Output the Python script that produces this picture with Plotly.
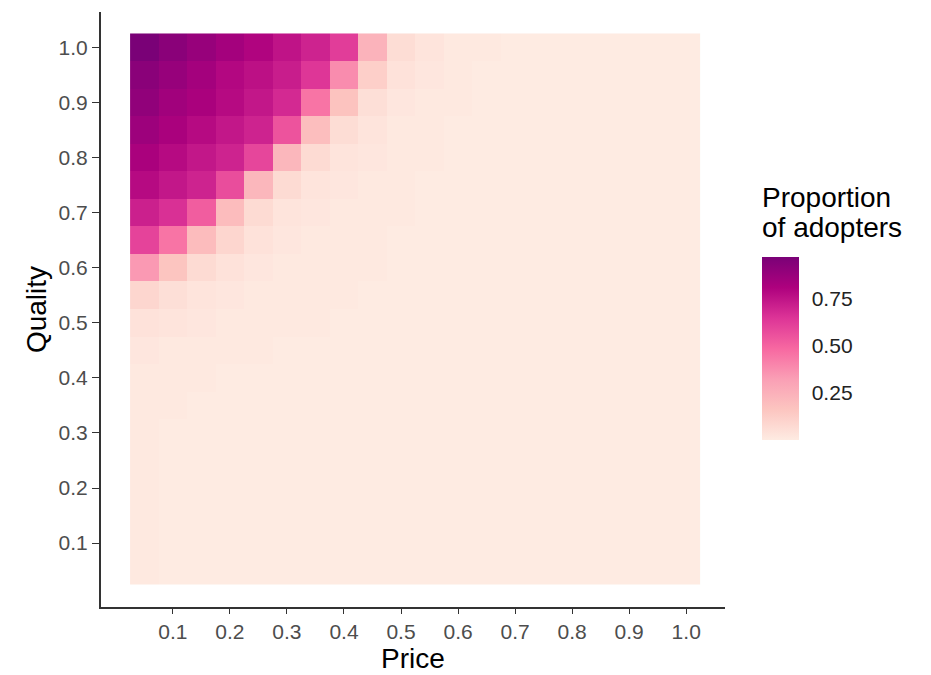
import plotly.graph_objects as go

# Price (x) and Quality (y) grid values
price = [0.05, 0.10, 0.15, 0.20, 0.25, 0.30, 0.35, 0.40, 0.45, 0.50,
         0.55, 0.60, 0.65, 0.70, 0.75, 0.80, 0.85, 0.90, 0.95, 1.00]
quality = [0.05, 0.10, 0.15, 0.20, 0.25, 0.30, 0.35, 0.40, 0.45, 0.50,
           0.55, 0.60, 0.65, 0.70, 0.75, 0.80, 0.85, 0.90, 0.95, 1.00]

# Proportion of adopters, one row per quality level (q = 0.05 ... 1.00)
z_rows = [
    [0.01, 0.00, 0.00, 0.00, 0.00, 0.00, 0.00, 0.00, 0.00, 0.00, 0.00, 0.00, 0.00, 0.00, 0.00, 0.00, 0.00, 0.00, 0.00, 0.00],  # 0.05
    [0.01, 0.00, 0.00, 0.00, 0.00, 0.00, 0.00, 0.00, 0.00, 0.00, 0.00, 0.00, 0.00, 0.00, 0.00, 0.00, 0.00, 0.00, 0.00, 0.00],  # 0.10
    [0.01, 0.00, 0.00, 0.00, 0.00, 0.00, 0.00, 0.00, 0.00, 0.00, 0.00, 0.00, 0.00, 0.00, 0.00, 0.00, 0.00, 0.00, 0.00, 0.00],  # 0.15
    [0.01, 0.00, 0.00, 0.00, 0.00, 0.00, 0.00, 0.00, 0.00, 0.00, 0.00, 0.00, 0.00, 0.00, 0.00, 0.00, 0.00, 0.00, 0.00, 0.00],  # 0.20
    [0.01, 0.00, 0.00, 0.00, 0.00, 0.00, 0.00, 0.00, 0.00, 0.00, 0.00, 0.00, 0.00, 0.00, 0.00, 0.00, 0.00, 0.00, 0.00, 0.00],  # 0.25
    [0.01, 0.00, 0.00, 0.00, 0.00, 0.00, 0.00, 0.00, 0.00, 0.00, 0.00, 0.00, 0.00, 0.00, 0.00, 0.00, 0.00, 0.00, 0.00, 0.00],  # 0.30
    [0.01, 0.01, 0.00, 0.00, 0.00, 0.00, 0.00, 0.00, 0.00, 0.00, 0.00, 0.00, 0.00, 0.00, 0.00, 0.00, 0.00, 0.00, 0.00, 0.00],  # 0.35
    [0.01, 0.01, 0.01, 0.00, 0.00, 0.00, 0.00, 0.00, 0.00, 0.00, 0.00, 0.00, 0.00, 0.00, 0.00, 0.00, 0.00, 0.00, 0.00, 0.00],  # 0.40
    [0.02, 0.01, 0.01, 0.01, 0.01, 0.00, 0.00, 0.00, 0.00, 0.00, 0.00, 0.00, 0.00, 0.00, 0.00, 0.00, 0.00, 0.00, 0.00, 0.00],  # 0.45
    [0.04, 0.03, 0.02, 0.01, 0.01, 0.01, 0.01, 0.00, 0.00, 0.00, 0.00, 0.00, 0.00, 0.00, 0.00, 0.00, 0.00, 0.00, 0.00, 0.00],  # 0.50
    [0.09, 0.05, 0.03, 0.02, 0.01, 0.01, 0.01, 0.01, 0.00, 0.00, 0.00, 0.00, 0.00, 0.00, 0.00, 0.00, 0.00, 0.00, 0.00, 0.00],  # 0.55
    [0.34, 0.16, 0.07, 0.04, 0.02, 0.01, 0.01, 0.01, 0.01, 0.00, 0.00, 0.00, 0.00, 0.00, 0.00, 0.00, 0.00, 0.00, 0.00, 0.00],  # 0.60
    [0.60, 0.45, 0.20, 0.09, 0.04, 0.02, 0.01, 0.01, 0.01, 0.00, 0.00, 0.00, 0.00, 0.00, 0.00, 0.00, 0.00, 0.00, 0.00, 0.00],  # 0.65
    [0.71, 0.66, 0.52, 0.20, 0.07, 0.03, 0.02, 0.01, 0.01, 0.01, 0.00, 0.00, 0.00, 0.00, 0.00, 0.00, 0.00, 0.00, 0.00, 0.00],  # 0.70
    [0.78, 0.74, 0.70, 0.57, 0.22, 0.07, 0.03, 0.02, 0.01, 0.01, 0.00, 0.00, 0.00, 0.00, 0.00, 0.00, 0.00, 0.00, 0.00, 0.00],  # 0.75
    [0.82, 0.78, 0.74, 0.70, 0.59, 0.22, 0.07, 0.03, 0.02, 0.01, 0.01, 0.00, 0.00, 0.00, 0.00, 0.00, 0.00, 0.00, 0.00, 0.00],  # 0.80
    [0.86, 0.82, 0.78, 0.74, 0.70, 0.55, 0.19, 0.06, 0.03, 0.01, 0.01, 0.00, 0.00, 0.00, 0.00, 0.00, 0.00, 0.00, 0.00, 0.00],  # 0.85
    [0.90, 0.85, 0.82, 0.78, 0.74, 0.68, 0.45, 0.17, 0.05, 0.02, 0.01, 0.01, 0.00, 0.00, 0.00, 0.00, 0.00, 0.00, 0.00, 0.00],  # 0.90
    [0.92, 0.88, 0.84, 0.79, 0.76, 0.72, 0.64, 0.38, 0.12, 0.04, 0.02, 0.01, 0.00, 0.00, 0.00, 0.00, 0.00, 0.00, 0.00, 0.00],  # 0.95
    [0.97, 0.92, 0.88, 0.84, 0.80, 0.75, 0.70, 0.62, 0.24, 0.06, 0.03, 0.01, 0.01, 0.00, 0.00, 0.00, 0.00, 0.00, 0.00, 0.00],  # 1.00
]

x_ticks = [0.1, 0.2, 0.3, 0.4, 0.5, 0.6, 0.7, 0.8, 0.9, 1.0]
x_tick_labels = ["0.1", "0.2", "0.3", "0.4", "0.5", "0.6", "0.7", "0.8", "0.9", "1.0"]
y_ticks = [0.1, 0.2, 0.3, 0.4, 0.5, 0.6, 0.7, 0.8, 0.9, 1.0]
y_tick_labels = ["0.1", "0.2", "0.3", "0.4", "0.5", "0.6", "0.7", "0.8", "0.9", "1.0"]
cbar_ticks = [0.25, 0.50, 0.75]
cbar_tick_labels = ["0.25", "0.50", "0.75"]
legend_title_lines = ["Proportion", "of adopters"]

# ColorBrewer RdPu (7 classes)
colorscale = [
    [0 / 6, "#feebe2"],
    [1 / 6, "#fcc5c0"],
    [2 / 6, "#fa9fb5"],
    [3 / 6, "#f768a1"],
    [4 / 6, "#dd3497"],
    [5 / 6, "#ae017e"],
    [6 / 6, "#7a0177"],
]

FONT = "Liberation Sans, Arial, sans-serif"

fig = go.Figure(
    go.Heatmap(
        x=price,
        y=quality,
        z=z_rows,
        colorscale=colorscale,
        zmin=0.0,
        zmax=0.97,
        colorbar=dict(
            tickvals=cbar_ticks,
            ticktext=cbar_tick_labels,
            tickfont=dict(size=21, color="#222222", family=FONT),
            ticks="outside",
            ticklen=9,
            tickcolor="white",
            tickwidth=1,
            outlinewidth=0,
            thickness=37,
            thicknessmode="pixels",
            len=183,
            lenmode="pixels",
            x=1.059,
            xanchor="left",
            y=0.434,
            yanchor="middle",
            xpad=0,
            ypad=0,
        ),
    )
)

# Legend title, two lines with ggplot-like tight spacing
for text, ypos in zip(legend_title_lines, [0.688, 0.638]):
    fig.add_annotation(
        text=text, xref="paper", yref="paper", x=1.056, y=ypos,
        xanchor="left", yanchor="middle", showarrow=False,
        font=dict(size=28, color="#000000", family=FONT),
    )

fig.update_layout(
    width=931,
    height=675,
    margin=dict(l=101, r=206, t=12, b=68, autoexpand=False),
    paper_bgcolor="white",
    plot_bgcolor="white",
    font=dict(family=FONT),
    xaxis=dict(
        range=[-0.026, 1.068],
        tickvals=x_ticks,
        ticktext=x_tick_labels,
        ticks="outside",
        ticklen=5,
        tickwidth=1,
        tickcolor="#333333",
        tickfont=dict(size=21, color="#4d4d4d", family=FONT),
        showline=True,
        linecolor="#333333",
        linewidth=2,
        showgrid=False,
        zeroline=False,
        automargin=False,
        title=dict(text="Price", font=dict(size=28, color="#000000", family=FONT), standoff=4),
    ),
    yaxis=dict(
        range=[-0.016, 1.064],
        tickvals=y_ticks,
        ticktext=y_tick_labels,
        ticks="outside",
        ticklen=7,
        tickwidth=1,
        tickcolor="#333333",
        tickfont=dict(size=21, color="#4d4d4d", family=FONT),
        showline=True,
        linecolor="#333333",
        linewidth=2,
        showgrid=False,
        zeroline=False,
        automargin=False,
        title=dict(text="Quality", font=dict(size=28, color="#000000", family=FONT), standoff=4),
    ),
)

fig.write_html("out.html")
